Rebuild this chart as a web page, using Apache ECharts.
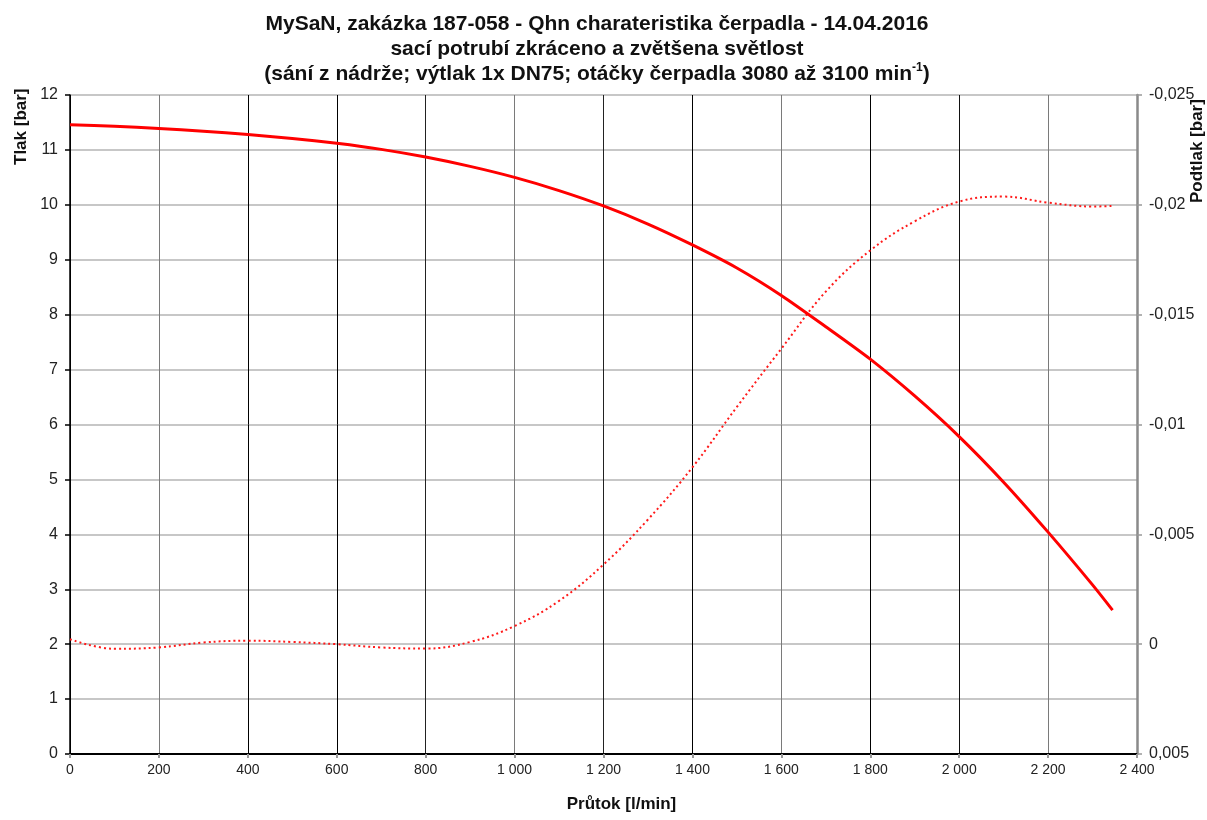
<!DOCTYPE html>
<html>
<head>
<meta charset="utf-8">
<script src="https://cdn.jsdelivr.net/npm/echarts@6/dist/echarts.min.js"></script>
<style>
html,body{margin:0;padding:0;background:#fff;}
#chart{width:1207px;height:820px;}
</style>
</head>
<body>
<div id="chart"></div>
<script>
// Flow [l/min]
const flow = [0,100,200,300,400,500,600,700,800,900,1000,1100,1200,1300,1400,1500,1600,1700,1800,1900,2000,2100,2200,2300,2345];
// Pressure [bar] (left axis, solid line)
const pressure = [11.46,11.43,11.39,11.34,11.28,11.21,11.12,11.01,10.87,10.70,10.50,10.26,9.98,9.65,9.27,8.85,8.35,7.78,7.19,6.52,5.78,4.95,4.04,3.08,2.62];
// Vacuum [bar] (right axis, dotted line)
const vacuum = [-0.000225,0.00021,0.00015,-0.000075,-0.00016,-0.0001,0,0.00015,0.0002,-0.0001,-0.000825,-0.00197,-0.003625,-0.005675,-0.00805,-0.0108,-0.01345,-0.01605,-0.017925,-0.01925,-0.02015,-0.020375,-0.0201,-0.019925,-0.01995];
// Tick values
const xTicks = [0,200,400,600,800,1000,1200,1400,1600,1800,2000,2200,2400];
const leftTicks = [0,1,2,3,4,5,6,7,8,9,10,11,12];
const rightTicks = [-0.025,-0.02,-0.015,-0.01,-0.005,0,0.005];

const titleLines = [
  'MySaN, zakázka 187-058 - Qhn charateristika čerpadla - 14.04.2016',
  'sací potrubí zkráceno a zvětšena světlost',
  '(sání z nádrže; výtlak 1x DN75; otáčky čerpadla 3080 až 3100 min'
];

const pressureData = flow.map((f, i) => [f, pressure[i]]);
const vacuumData = flow.map((f, i) => [f, vacuum[i]]);

function fmtX(v) {
  return String(v).replace(/\B(?=(\d{3})+(?!\d))/g, ' ');
}
function fmtR(v) {
  const n = Number(v.toFixed(4));
  return String(n).replace('.', ',');
}

const vColors = ['#000','#7a7a7a','#000','#000','#222','#7a7a7a','#222','#000','#7a7a7a','#000','#111','#7a7a7a','#888'];

const chart = echarts.init(document.getElementById('chart'), null, {renderer: 'canvas'});
chart.setOption({
  animation: false,
  backgroundColor: '#fff',
  title: {
    text: titleLines[0] + '\n' + titleLines[1] + '\n' + titleLines[2] + '{sup|-1}' + ')',
    left: 592,
    top: 7,
    textAlign: 'center',
    textStyle: {
      fontFamily: 'Liberation Sans',
      fontWeight: 'bold',
      fontSize: 21,
      lineHeight: 25,
      color: '#111',
      rich: {
        sup: { fontFamily: 'Liberation Sans', fontWeight: 'bold', fontSize: 12, lineHeight: 25, verticalAlign: 'top', color: '#111' }
      }
    }
  },
  grid: { left: 70, right: 70, top: 95, bottom: 66, outerBoundsMode: 'none', containLabel: false },
  xAxis: {
    type: 'value',
    min: 0, max: 2400, interval: 200,
    name: 'Průtok [l/min]',
    nameLocation: 'middle',
    nameGap: 42,
    nameMoveOverlap: false,
    nameTextStyle: { fontFamily: 'Liberation Sans', fontWeight: 'bold', fontSize: 17, color: '#111', padding: [0,0,0,36] },
    axisLine: { show: true, onZero: false, lineStyle: { color: '#000', width: 2 } },
    axisTick: { show: true, length: 4, lineStyle: { color: '#999', width: 2 } },
    axisLabel: { fontFamily: 'Liberation Sans', fontSize: 14, color: '#222', margin: 9, formatter: fmtX },
    splitLine: { show: true, lineStyle: { color: vColors, width: 1 } }
  },
  yAxis: [
    {
      type: 'value',
      min: 0, max: 12, interval: 1,
      position: 'left',
      name: 'Tlak [bar]',
      nameLocation: 'end',
      nameRotate: 90,
      nameGap: -70,
      nameMoveOverlap: false,
      nameTextStyle: { fontFamily: 'Liberation Sans', fontWeight: 'bold', fontSize: 17, color: '#111', verticalAlign: 'bottom', lineHeight: 98 },
      axisLine: { show: true, onZero: false, lineStyle: { color: '#000', width: 1.5 } },
      axisTick: { show: true, length: 5, lineStyle: { color: '#000', width: 1.5 } },
      axisLabel: { fontFamily: 'Liberation Sans', fontSize: 16, color: '#222', margin: 12 },
      splitLine: { show: true, lineStyle: { color: '#b4b4b4', width: 1.5 } }
    },
    {
      type: 'value',
      min: -0.025, max: 0.005, interval: 0.005,
      inverse: true,
      position: 'right',
      name: 'Podtlak [bar]',
      nameLocation: 'start',
      nameRotate: 90,
      nameGap: -108,
      nameMoveOverlap: false,
      nameTextStyle: { fontFamily: 'Liberation Sans', fontWeight: 'bold', fontSize: 17, color: '#111', verticalAlign: 'top', lineHeight: 120 },
      axisLine: { show: true, onZero: false, lineStyle: { color: '#8a8a8a', width: 2.5 } },
      axisTick: { show: true, length: 5, lineStyle: { color: '#999', width: 1.5 } },
      axisLabel: { fontFamily: 'Liberation Sans', fontSize: 16, color: '#222', margin: 12, formatter: fmtR },
      splitLine: { show: false }
    }
  ],
  series: [
    {
      name: 'Tlak',
      type: 'line',
      yAxisIndex: 0,
      data: pressureData,
      smooth: 0.25,
      showSymbol: false,
      symbol: 'none',
      lineStyle: { color: '#ff0000', width: 3 },
      z: 5
    },
    {
      name: 'Podtlak',
      type: 'line',
      yAxisIndex: 1,
      data: vacuumData,
      smooth: 0.4,
      showSymbol: false,
      symbol: 'none',
      lineStyle: { color: '#ff1a1a', width: 2, type: [2, 3] },
      z: 4
    }
  ]
});
</script>
</body>
</html>
